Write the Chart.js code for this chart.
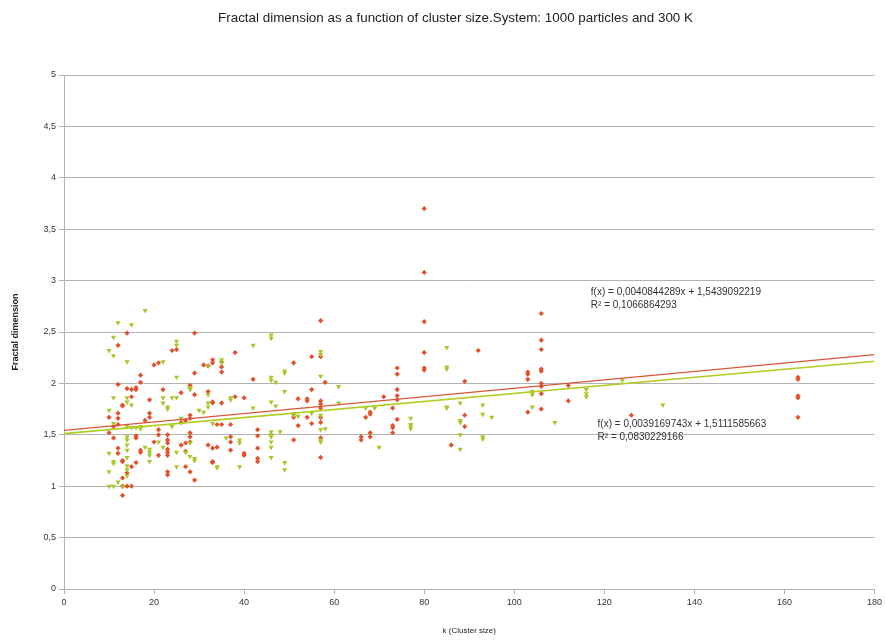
<!DOCTYPE html>
<html>
<head>
<meta charset="utf-8">
<script src="https://cdn.jsdelivr.net/npm/chart.js@4.4.1/dist/chart.umd.min.js"></script>
<style>
html,body{margin:0;padding:0;background:#fff;}
#wrap{width:885px;height:640px;position:relative;}
</style>
</head>
<body>
<div id="wrap"><canvas id="c" width="885" height="640"></canvas></div>
<script>
const chartTitle = 'Fractal dimension as a function of cluster size.System: 1000 particles and 300 K';
const xTitle = 'k (Cluster size)';
const yTitle = 'Fractal dimension';

const redK = [14,12,12,14,15,16,16,17,17,15,13,13,10,12,12,12,10,11,11,12,12,13,13,16,16,17,17,16,15,14,13,13,14,15,13,19,19,18,19,20,21,21,21,22,23,23,23,23,23,23,23,23,20,21,24,
  29,25,33,33,31,32,35,35,35,38,29,28,28,42,26,29,32,33,33,35,38,40,28,28,27,26,34,35,37,28,28,28,37,37,43,26,27,27,32,33,34,37,40,43,33,33,27,28,29,
  57,51,55,57,58,52,54,54,55,57,57,57,51,51,54,52,55,57,57,43,43,43,51,57,57,40,
  80,80,80,80,80,80,92,74,74,74,74,74,71,89,103,103,103,103,73,68,68,67,74,73,73,89,89,66,66,68,68,73,86,
  106,106,106,106,106,106,106,106,106,112,112,126,163,163,163,163,163];
const redY = [2.49,2.37,1.99,1.95,1.94,1.96,1.94,2.08,2.01,1.87,1.79,1.78,1.67,1.71,1.66,1.60,1.52,1.58,1.47,1.37,1.32,1.25,1.24,1.47,1.49,1.35,1.33,1.23,1.19,1.13,1.08,1.00,1.00,1.00,0.91,1.84,1.71,1.64,1.67,2.18,2.20,1.55,1.50,1.94,1.50,1.45,1.42,1.36,1.33,1.30,1.14,1.11,1.43,1.30,2.32,
  2.49,2.33,2.23,2.20,2.18,2.17,2.16,2.11,2.21,2.30,2.10,1.98,1.96,2.04,1.91,1.89,1.92,1.82,1.81,1.81,1.87,1.86,1.69,1.66,1.64,1.62,1.60,1.60,1.60,1.52,1.48,1.43,1.48,1.43,1.55,1.40,1.42,1.34,1.40,1.37,1.38,1.35,1.32,1.37,1.24,1.23,1.19,1.14,1.06,
  2.61,2.20,2.26,2.26,2.01,1.85,1.85,1.83,1.94,1.83,1.80,1.76,1.70,1.67,1.67,1.59,1.61,1.67,1.62,1.49,1.27,1.24,1.45,1.47,1.28,1.30,
  3.70,3.08,2.60,2.30,2.15,2.13,2.32,2.15,2.09,1.94,1.88,1.84,1.87,2.02,2.11,2.09,2.04,1.72,1.76,1.72,1.70,1.67,1.65,1.59,1.57,1.69,1.58,1.48,1.45,1.52,1.48,1.52,1.40,
  2.68,2.42,2.33,2.14,2.12,2.00,1.97,1.90,1.75,1.98,1.83,1.69,2.06,2.04,1.88,1.86,1.67];

const greenK = [12,15,11,10,11,14,11,14,14,15,10,11,14,15,16,17,17,14,14,14,14,14,10,11,11,14,14,14,10,10,11,12,13,18,19,19,19,19,21,22,22,22,23,23,22,18,
  25,25,25,24,25,28,28,32,35,35,42,30,31,32,32,37,37,33,42,26,24,25,27,28,28,29,29,34,39,39,39,25,
  46,46,32,49,49,57,57,57,46,46,47,49,46,47,51,52,55,57,36,46,46,46,46,48,46,46,49,49,34,57,57,57,58,
  85,85,85,61,61,69,67,85,85,88,93,93,77,77,77,77,88,88,95,88,93,93,88,70,
  104,104,104,104,116,116,116,124,133,109];
const greenY = [2.59,2.57,2.45,2.32,2.27,2.21,1.86,1.86,1.82,1.79,1.74,1.61,1.58,1.57,1.57,1.56,1.58,1.48,1.45,1.40,1.35,1.28,1.32,1.24,1.22,1.20,1.16,1.10,1.14,1.00,1.00,1.04,1.00,1.38,1.36,1.30,1.33,1.24,1.43,1.38,1.86,1.81,1.77,1.75,2.21,2.71,
  2.41,2.37,2.06,1.86,1.86,1.96,1.94,1.89,2.23,2.20,2.37,1.74,1.72,1.77,1.81,1.84,1.86,1.61,1.76,1.66,1.58,1.33,1.33,1.42,1.29,1.27,1.25,1.19,1.45,1.42,1.19,1.19,
  2.47,2.44,2.17,2.12,2.10,2.31,2.28,2.07,2.06,2.03,2.01,1.92,1.82,1.78,1.69,1.68,1.71,1.69,1.47,1.53,1.50,1.48,1.43,1.53,1.38,1.28,1.23,1.16,1.18,1.55,1.45,1.43,1.56,
  2.35,2.16,2.14,1.97,1.81,1.76,1.76,1.77,1.76,1.81,1.79,1.70,1.66,1.60,1.58,1.56,1.64,1.62,1.67,1.50,1.48,1.46,1.36,1.38,
  1.92,1.89,1.91,1.77,1.94,1.90,1.87,2.03,1.79,1.62];

const redSlope = 0.0040844289, redIntercept = 1.5439092219, redR2 = 0.1066864293;
const greenSlope = 0.0039169743, greenIntercept = 1.5111585663, greenR2 = 0.0830229166;
const xRange = [0, 180];
const yTicks = [0,0.5,1,1.5,2,2.5,3,3.5,4,4.5,5];
const xTicks = [0,20,40,60,80,100,120,140,160,180];

const redText = ['f(x) = 0,0040844289x + 1,5439092219', 'R\u00b2 = 0,1066864293'];
const greenText = ['f(x) = 0,0039169743x + 1,5111585663', 'R\u00b2 = 0,0830229166'];
const redTextAt = {x: 117, y: 2.89};
const greenTextAt = {x: 118.5, y: 1.60};

const RED = '#e2502c', GREEN = '#a9c62b';
const RED_LINE = '#d9553a', GREEN_LINE = '#b2cc24';
const FONT = "'Liberation Sans', Arial, sans-serif";

function pts(xs, ys){ return xs.map((x,i)=>({x:x, y:ys[i]})); }
function trend(m,b){ return xRange.map(x=>({x:x, y:b+m*x})); }
const fmt = v => String(v).replace('.', ',');

const textPlugin = {
  id:'trendText',
  afterDraw(chart){
    const ctx = chart.ctx, xs = chart.scales.x, ys = chart.scales.y;
    ctx.save();
    ctx.font = '10px ' + FONT;
    ctx.fillStyle = '#333';
    ctx.textAlign = 'left';
    ctx.textBaseline = 'middle';
    [[redText, redTextAt],[greenText, greenTextAt]].forEach(([lines, at])=>{
      const px = xs.getPixelForValue(at.x), py = ys.getPixelForValue(at.y);
      lines.forEach((t,i)=>ctx.fillText(t, px, py + i*13));
    });
    // chart title, centred slightly right of the canvas centre as in the reference
    ctx.font = '13.4px ' + FONT;
    ctx.fillStyle = '#222';
    ctx.textAlign = 'center';
    ctx.fillText(chartTitle, chart.width / 2 + 13, 18);
    ctx.restore();
  }
};

new Chart(document.getElementById('c'), {
  type: 'scatter',
  data: {
    datasets: [
      {label:'red', data: pts(redK, redY), backgroundColor: RED, borderColor: RED, pointStyle:'rectRot', pointRadius:2.6, borderWidth:0, order:3},
      {label:'green', data: pts(greenK, greenY), backgroundColor: GREEN, borderColor: GREEN, pointStyle:'triangle', rotation:180, pointRadius:3, borderWidth:0, order:2},
      {type:'line', label:'green trend', data: trend(greenSlope, greenIntercept), borderColor: GREEN_LINE, borderWidth:1.6, pointRadius:0, fill:false, order:1},
      {type:'line', label:'red trend', data: trend(redSlope, redIntercept), borderColor: RED_LINE, borderWidth:1.3, pointRadius:0, fill:false, order:0}
    ]
  },
  options: {
    responsive:false,
    animation:false,
    layout:{padding:{left:0,right:10,top:75,bottom:0}},
    plugins:{
      legend:{display:false},
      tooltip:{enabled:false},
      title:{display:false}
    },
    scales:{
      x:{
        type:'linear', min:xRange[0], max:xRange[1],
        afterFit(s){ s.height = 51; },
        afterBuildTicks(s){ s.ticks = xTicks.map(v=>({value:v})); },
        ticks:{color:'#333', font:{family:FONT, size:9}, padding:3, maxRotation:0, callback:v=>fmt(v)},
        grid:{drawOnChartArea:false, drawTicks:true, tickLength:5, color:'#b3b3b3'},
        border:{color:'#b3b3b3'},
        title:{display:true, text:xTitle, color:'#222', font:{family:FONT, size:8}, padding:{top:0,bottom:4}}
      },
      y:{
        type:'linear', min:0, max:5,
        afterFit(s){ s.width = 64; },
        afterBuildTicks(s){ s.ticks = yTicks.map(v=>({value:v})); },
        ticks:{color:'#333', font:{family:FONT, size:9}, padding:3, callback:v=>fmt(v)},
        grid:{color:'#b3b3b3', tickLength:5, drawTicks:true},
        border:{color:'#b3b3b3'},
        title:{display:true, text:yTitle, color:'#222', font:{family:FONT, size:9, weight:'bold'}, padding:{top:10,bottom:0}}
      }
    }
  },
  plugins:[textPlugin]
});
</script>
</body>
</html>
